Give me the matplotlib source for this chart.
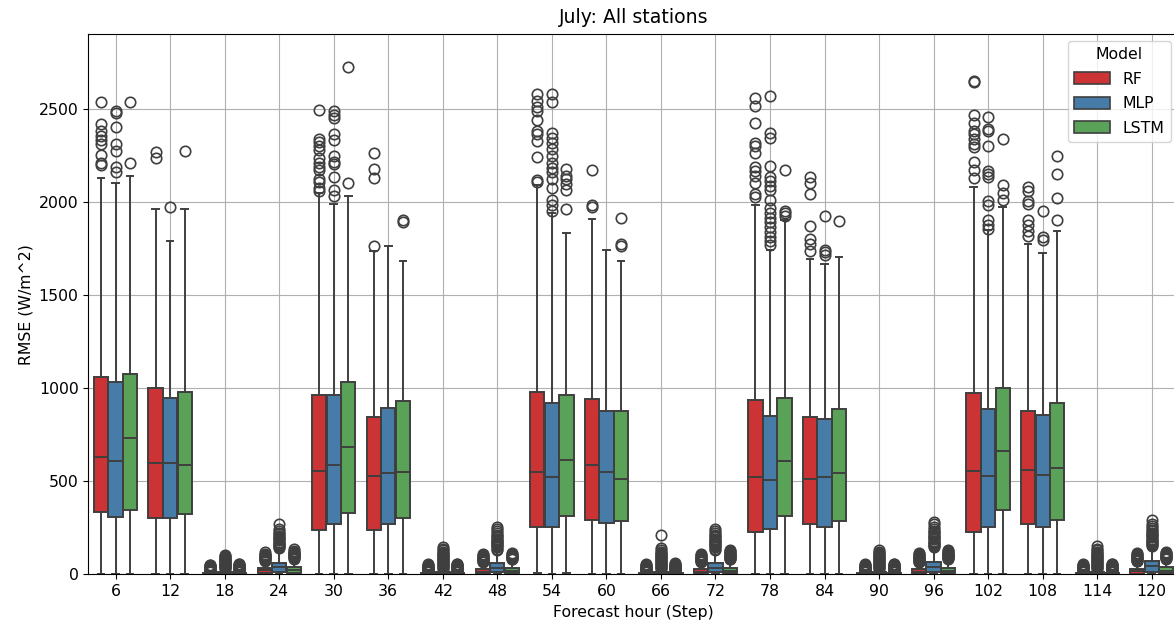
import colorsys
import matplotlib
matplotlib.use("Agg")
import matplotlib.pyplot as plt
from matplotlib.colors import to_rgb
from matplotlib.patches import Patch

# ---------------------------------------------------------------- data
steps = [6, 12, 18, 24, 30, 36, 42, 48, 54, 60, 66, 72, 78, 84, 90, 96, 102, 108, 114, 120]
models = ["RF", "MLP", "LSTM"]
base_colors = ["#e41a1c", "#377eb8", "#4daf4a"]  # Set1

# Random forest
rf_q1 = [337, 303, 0, 8, 238, 238, 0, 5, 252, 293, 0, 5, 228, 271, 0, 3, 228, 271, 0, 4]
rf_med = [630, 596, 1, 21, 557, 529, 1, 15, 548, 589, 1, 15, 524, 509, 1, 14, 555, 561, 1, 16]
rf_q3 = [1061, 998, 6, 34, 960, 845, 6, 28, 980, 943, 6, 28, 936, 842, 6, 27, 973, 878, 6, 30]
rf_lo = [0, 0, 0, 0, 0, 0, 0, 0, 7, 0, 0, 0, 0, 0, 0, 0, 0, 0, 0, 0]
rf_hi = [2129, 1962, 13, 70, 2045, 1736, 13, 62, 2092, 1909, 13, 62, 1984, 1692, 13, 60, 2079, 1775, 13, 65]
rf_fliers = [
    [2535, 2416, 2378, 2353, 2330, 2307, 2250, 2209, 2196],
    [2267, 2234],
    [15, 18, 21, 24, 27, 30, 33, 36, 39, 42, 45, 48, 52],
    [74, 78, 82, 86, 90, 94, 98, 102, 106, 111, 118],
    [2493, 2336, 2320, 2300, 2280, 2232, 2205, 2186, 2170, 2123, 2105, 2075, 2055],
    [2263, 2177, 2129, 1761],
    [15, 18, 21, 24, 27, 30, 33, 36, 39, 42, 45, 49, 53],
    [66, 70, 74, 78, 82, 86, 90, 94, 98, 104, 110],
    [2580, 2540, 2510, 2485, 2441, 2380, 2365, 2325, 2242, 2118, 2104],
    [2168, 1984, 1969],
    [15, 18, 21, 24, 27, 30, 33, 36, 40, 43, 46, 50, 54],
    [66, 70, 74, 78, 82, 86, 90, 94, 99, 104, 110],
    [2556, 2514, 2421, 2316, 2300, 2260, 2187, 2164, 2140, 2098, 2039, 2024],
    [2131, 2098, 2039, 1872, 1802, 1771, 1734],
    [15, 18, 21, 24, 27, 30, 33, 37, 40, 43, 47, 50, 54],
    [64, 68, 72, 76, 80, 84, 88, 93, 98, 103, 108, 115],
    [2650, 2643, 2467, 2421, 2380, 2362, 2334, 2310, 2292, 2214, 2172, 2127],
    [2079, 2057, 2002, 1990, 1900, 1876, 1845, 1817],
    [15, 18, 21, 24, 27, 30, 33, 36, 39, 43, 46, 50, 54],
    [70, 74, 78, 82, 86, 90, 94, 98, 103, 108, 115],
]

# Multilayer perceptron
mlp_q1 = [308, 303, 0, 12, 270, 270, 0, 12, 252, 278, 0, 12, 241, 256, 0, 14, 256, 256, 0, 14]
mlp_med = [609, 596, 3, 40, 586, 542, 3, 35, 524, 548, 3, 36, 505, 524, 3, 41, 527, 533, 3, 42]
mlp_q3 = [1031, 945, 12, 63, 960, 893, 12, 60, 921, 878, 12, 60, 847, 834, 12, 68, 888, 856, 12, 70]
mlp_lo = [0, 0, 0, 0, 0, 0, 0, 0, 0, 0, 0, 0, 0, 0, 0, 0, 0, 0, 0, 0]
mlp_hi = [2100, 1790, 28, 135, 1989, 1764, 28, 128, 1937, 1743, 28, 128, 1743, 1665, 28, 140, 1848, 1725, 28, 145]
mlp_fliers = [
    [2489, 2477, 2400, 2309, 2270, 2186, 2158],
    [1970],
    [31, 35, 39, 43, 47, 51, 55, 59, 63, 67, 71, 75, 79, 84, 89, 94, 98, 103],
    [140, 146, 152, 158, 164, 170, 176, 182, 188, 194, 200, 207, 214, 222, 232, 244, 270],
    [2489, 2464, 2450, 2364, 2330, 2243, 2215, 2200, 2135, 2062, 2033],
    [],
    [31, 36, 41, 46, 51, 56, 61, 66, 71, 76, 81, 86, 91, 96, 102, 108, 114, 121, 128, 136, 147],
    [132, 138, 144, 150, 156, 162, 168, 174, 180, 186, 192, 198, 205, 212, 220, 230, 242, 255],
    [2580, 2534, 2371, 2343, 2316, 2283, 2246, 2205, 2181, 2159, 2122, 2076, 2011, 1984, 1950],
    [],
    [31, 36, 41, 46, 51, 56, 61, 66, 71, 76, 81, 86, 91, 96, 102, 108, 115, 122, 128, 142, 213],
    [132, 138, 144, 150, 156, 162, 168, 174, 180, 186, 192, 198, 205, 212, 220, 230, 245],
    [2569, 2371, 2343, 2190, 2131, 2113, 2085, 2061, 2011, 1965, 1937, 1913, 1891, 1863, 1835, 1811, 1789, 1765],
    [1924, 1743, 1728, 1715],
    [31, 36, 41, 46, 51, 56, 61, 66, 71, 76, 81, 86, 91, 96, 102, 108, 114, 121, 128],
    [145, 151, 157, 163, 169, 175, 181, 187, 193, 199, 205, 212, 219, 226, 234, 244, 256, 268, 280],
    [2454, 2390, 2380, 2297, 2164, 2150, 2135, 2002, 1980, 1900, 1876, 1854],
    [1950, 1808, 1795],
    [31, 36, 41, 46, 51, 56, 61, 66, 71, 76, 81, 86, 91, 96, 102, 108, 115, 122, 130, 138, 150],
    [150, 156, 162, 168, 174, 180, 186, 192, 198, 204, 210, 217, 224, 231, 239, 248, 258, 270, 290],
]

# LSTM network
lstm_q1 = [347, 324, 0, 8, 328, 303, 0, 7, 315, 284, 0, 7, 315, 284, 0, 8, 343, 289, 0, 8]
lstm_med = [730, 586, 1, 24, 682, 548, 1, 20, 616, 514, 1, 20, 610, 546, 1, 20, 662, 573, 1, 20]
lstm_q3 = [1075, 979, 6, 40, 1031, 931, 6, 36, 963, 875, 6, 36, 948, 888, 6, 36, 998, 917, 6, 37]
lstm_lo = [0, 0, 0, 0, 0, 0, 0, 0, 7, 0, 0, 0, 0, 0, 0, 0, 0, 0, 0, 0]
lstm_hi = [2138, 1962, 14, 80, 2033, 1684, 14, 75, 1830, 1679, 14, 75, 1904, 1702, 14, 78, 1974, 1845, 14, 78]
lstm_fliers = [
    [2535, 2207],
    [2270],
    [15, 18, 21, 24, 27, 30, 33, 36, 39, 43, 46, 49, 53, 57],
    [84, 88, 92, 96, 100, 104, 108, 112, 117, 122, 127, 134],
    [2723, 2100],
    [1899, 1890],
    [15, 18, 21, 24, 27, 30, 33, 36, 39, 43, 46, 49, 53, 56],
    [80, 84, 88, 92, 96, 100, 104, 108, 112],
    [2177, 2140, 2122, 2094, 2061, 1961],
    [1913, 1771, 1761],
    [15, 18, 21, 24, 27, 30, 33, 36, 39, 43, 46, 50, 54, 58],
    [80, 84, 88, 92, 96, 100, 104, 108, 113, 118, 124, 130],
    [2172, 1950, 1937, 1924],
    [1894],
    [15, 18, 21, 24, 27, 30, 33, 36, 39, 43, 46, 50, 54, 57],
    [82, 86, 90, 94, 98, 102, 106, 110, 115, 120, 126, 133],
    [2334, 2088, 2048, 2011],
    [2246, 2150, 2020, 1900],
    [15, 18, 21, 24, 27, 30, 33, 36, 39, 43, 46, 50, 54, 57],
    [82, 86, 90, 94, 98, 102, 106, 110, 115, 120],
]

series = [
    (rf_q1, rf_med, rf_q3, rf_lo, rf_hi, rf_fliers),
    (mlp_q1, mlp_med, mlp_q3, mlp_lo, mlp_hi, mlp_fliers),
    (lstm_q1, lstm_med, lstm_q3, lstm_lo, lstm_hi, lstm_fliers),
]


def desaturate(color, prop=0.75):
    h, l, s = colorsys.rgb_to_hls(*to_rgb(color))
    return colorsys.hls_to_rgb(h, l, s * prop)


colors = [desaturate(c) for c in base_colors]
line_color = "#3f3f3f"

plt.rcParams["font.family"] = "DejaVu Sans"
plt.rcParams["font.size"] = 11.3

fig = plt.figure(figsize=(11.74, 6.27), dpi=100)
ax = fig.add_axes([88.3 / 1174, 52.7 / 627, (1179 - 88.3) / 1174, (574.3 - 34) / 627])
ax.set_axisbelow(True)
ax.grid(True, color="#b0b0b0", linewidth=0.8)

n_models = len(models)
box_w = 0.8 / n_models
for k, (q1, med, q3, lo, hi, fl) in enumerate(series):
    offset = (k - (n_models - 1) / 2) * box_w
    stats = []
    for i in range(len(steps)):
        stats.append(dict(q1=q1[i], med=med[i], q3=q3[i], whislo=lo[i],
                          whishi=hi[i], fliers=fl[i]))
    positions = [i + offset for i in range(len(steps))]
    ax.bxp(stats, positions=positions, widths=box_w * 0.98, patch_artist=True,
           showfliers=True, manage_ticks=False, capwidths=box_w * 0.45,
           boxprops=dict(facecolor=colors[k], edgecolor=line_color, linewidth=1.4),
           medianprops=dict(color=line_color, linewidth=1.4),
           whiskerprops=dict(color=line_color, linewidth=1.4),
           capprops=dict(color=line_color, linewidth=1.4),
           flierprops=dict(marker="o", markersize=7.5, markerfacecolor="none",
                           markeredgecolor=line_color, markeredgewidth=1.2,
                           linestyle="none"))

ax.set_xticks(range(len(steps)))
ax.set_xticklabels([str(s) for s in steps])
ax.set_xlim(-0.5, len(steps) - 0.5)
ax.set_ylim(0, 2900)
ax.set_yticks([0, 500, 1000, 1500, 2000, 2500])

ax.set_title("July: All stations", pad=8)
ax.set_xlabel("Forecast hour (Step)")
ax.set_ylabel("RMSE (W/m^2)")

handles = [Patch(facecolor=colors[k], edgecolor=line_color, linewidth=1.2, label=m)
           for k, m in enumerate(models)]
leg = ax.legend(handles=handles, title="Model", loc="upper right",
                bbox_to_anchor=(1171 / 1174, (627 - 41) / 627),
                bbox_transform=fig.transFigure, borderaxespad=0,
                handlelength=2.3, handleheight=0.8, labelspacing=0.6)

fig.savefig("out.png", dpi=100)
